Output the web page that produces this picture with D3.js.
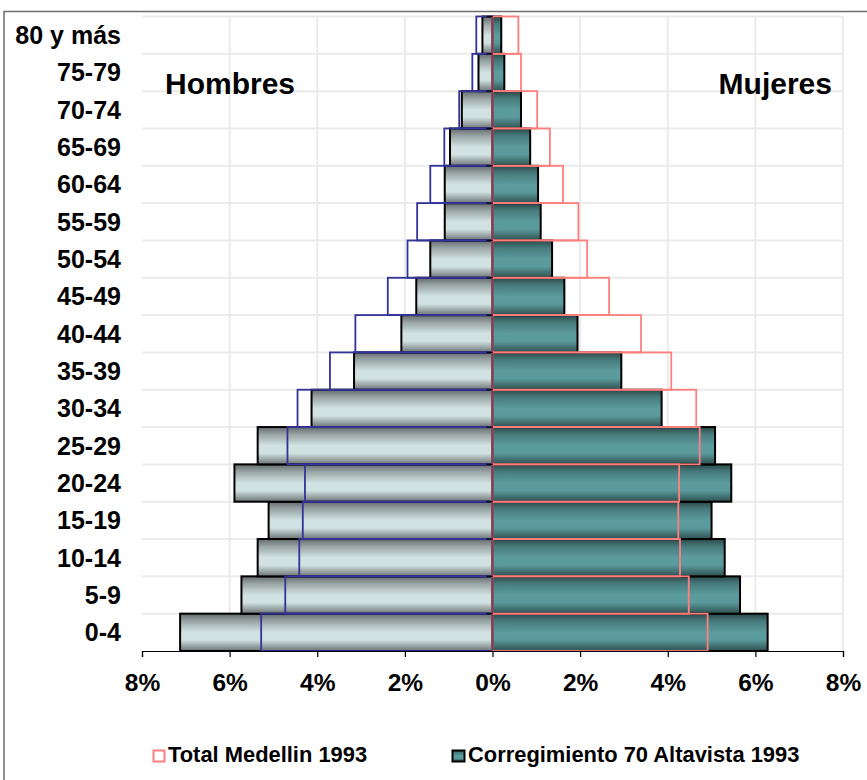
<!DOCTYPE html>
<html>
<head>
<meta charset="utf-8">
<script src="https://cdn.jsdelivr.net/npm/d3@7"></script>
<style>
  html, body { margin: 0; padding: 0; background: #fff; }
  svg { display: block; font-family: Arial, "Liberation Sans", sans-serif; }
</style>
</head>
<body>
<svg id="chart" width="867" height="780"></svg>
<script>
// ---- Data (percent of population) ----
const ageGroups = ["0-4","5-9","10-14","15-19","20-24","25-29","30-34","35-39","40-44","45-49","50-54","55-59","60-64","65-69","70-74","75-79","80 y más"];
const hombresAltavista = [7.13,5.73,5.36,5.11,5.89,5.36,4.13,3.16,2.08,1.74,1.42,1.09,1.09,0.97,0.70,0.32,0.23];
const hombresMedellin  = [5.28,4.73,4.41,4.33,4.28,4.68,4.45,3.71,3.13,2.39,1.94,1.72,1.42,1.10,0.76,0.46,0.37];
const mujeresAltavista = [6.28,5.65,5.30,5.00,5.45,5.08,3.86,2.94,1.94,1.64,1.36,1.10,1.04,0.86,0.65,0.27,0.20];
const mujeresMedellin  = [4.91,4.48,4.28,4.24,4.26,4.73,4.65,4.08,3.39,2.66,2.16,1.96,1.61,1.31,1.02,0.65,0.59];
const xTicks = [-8,-6,-4,-2,0,2,4,6,8];
const seriesNames = ["Total Medellin 1993","Corregimiento 70 Altavista 1993"];
const sideLabels = ["Hombres","Mujeres"];

(function () {
const svg = d3.select("#chart");
const pLeft = 142, pRight = 843, pTop = 16.5, pBottom = 651;

const x = d3.scaleLinear().domain([-8, 8]).range([pLeft, pRight]);
const y = d3.scaleBand().domain(ageGroups.slice().reverse()).range([pTop, pBottom]).padding(0);

// gradients
const defs = svg.append("defs");
function grad(id, stops) {
  const g = defs.append("linearGradient").attr("id", id).attr("x1", 0).attr("y1", 0).attr("x2", 0).attr("y2", 1);
  stops.forEach(s => g.append("stop").attr("offset", s[0]).attr("stop-color", s[1]));
}
grad("gMen", [[0,"#646c6c"],[0.2,"#9aa5a5"],[0.5,"#d2e2e2"],[0.7,"#d2e2e2"],[1,"#6c7474"]]);
grad("gWomen", [[0,"#2b4848"],[0.2,"#477b7c"],[0.5,"#5c9c9e"],[0.7,"#5a9a9c"],[1,"#2f5050"]]);

// outer frame
svg.append("rect").attr("x", 4).attr("y", 11.5).attr("width", 900).attr("height", 800)
  .attr("fill", "none").attr("stroke", "#6e6e6e").attr("stroke-width", 1.5);

// plot border + gridlines
const grid = svg.append("g");
grid.selectAll("line.v").data(xTicks.slice(1)).join("line")
  .attr("x1", d => x(d)).attr("x2", d => x(d)).attr("y1", pTop).attr("y2", pBottom)
  .attr("stroke", "#ebebeb").attr("stroke-width", 2);
grid.selectAll("line.h").data(ageGroups).join("line")
  .attr("x1", pLeft).attr("x2", pRight)
  .attr("y1", d => y(d)).attr("y2", d => y(d))
  .attr("stroke", "#ebebeb").attr("stroke-width", 2);

// Altavista bars (filled)
const rows = ageGroups.map((a, i) => ({ age: a, hA: hombresAltavista[i], hM: hombresMedellin[i], mA: mujeresAltavista[i], mM: mujeresMedellin[i] }));
const bw = y.bandwidth();
svg.append("g").selectAll("rect").data(rows).join("rect")
  .attr("x", d => x(-d.hA)).attr("y", d => y(d.age))
  .attr("width", d => x(0) - x(-d.hA)).attr("height", bw)
  .attr("fill", "url(#gMen)").attr("stroke", "#000").attr("stroke-width", 2);
svg.append("g").selectAll("rect").data(rows).join("rect")
  .attr("x", x(0)).attr("y", d => y(d.age))
  .attr("width", d => x(d.mA) - x(0)).attr("height", bw)
  .attr("fill", "url(#gWomen)").attr("stroke", "#000").attr("stroke-width", 2);

// Medellín outlines
svg.append("g").selectAll("rect").data(rows).join("rect")
  .attr("x", d => x(-d.hM)).attr("y", d => y(d.age))
  .attr("width", d => x(0) - x(-d.hM)).attr("height", bw)
  .attr("fill", "none").attr("stroke", "#333399").attr("stroke-width", 1.8);
svg.append("g").selectAll("rect").data(rows).join("rect")
  .attr("x", x(0)).attr("y", d => y(d.age))
  .attr("width", d => x(d.mM) - x(0)).attr("height", bw)
  .attr("fill", "none").attr("stroke", "#ff7f7f").attr("stroke-width", 1.8);

// center line and y ticks
svg.append("line").attr("x1", x(0)).attr("x2", x(0)).attr("y1", pTop).attr("y2", pBottom)
  .attr("stroke", "#8c3a48").attr("stroke-width", 1.2);
svg.append("g").selectAll("line").data(ageGroups).join("line")
  .attr("x1", x(0) - 6).attr("x2", x(0)).attr("y1", d => y(d)).attr("y2", d => y(d))
  .attr("stroke", "#000").attr("stroke-width", 1.2);

// x axis
const xAxis = d3.axisBottom(x).tickValues(xTicks).tickSize(6).tickFormat(d => Math.abs(d) + "%");
const gx = svg.append("g").attr("transform", `translate(0,${pBottom})`).call(xAxis);
gx.select(".domain").attr("stroke", "#000").attr("stroke-width", 1.2);
gx.selectAll(".tick line").attr("stroke", "#000").attr("stroke-width", 1.2);
gx.selectAll(".tick text").attr("y", 40).attr("dy", 0)
  .attr("font-size", "24.5px").attr("font-weight", "bold").attr("fill", "#000")
  .attr("font-family", "Arial, 'Liberation Sans', sans-serif");

// y labels
svg.append("g").selectAll("text").data(ageGroups).join("text")
  .attr("x", 121).attr("y", d => y(d) + bw / 2 + 9)
  .attr("text-anchor", "end").attr("font-size", "25px").attr("font-weight", "bold")
  .text(d => d);

// side labels
svg.append("text").attr("x", 165).attr("y", 93.5).attr("font-size", "30px").attr("font-weight", "bold").text(sideLabels[0]);
svg.append("text").attr("x", 832).attr("y", 93.5).attr("text-anchor", "end").attr("font-size", "30px").attr("font-weight", "bold").text(sideLabels[1]);

// legend
const lg = svg.append("g");
lg.append("rect").attr("x", 153.5).attr("y", 750.5).attr("width", 11).attr("height", 11)
  .attr("fill", "#fff").attr("stroke", "#ff7f7f").attr("stroke-width", 2);
lg.append("text").attr("x", 168).attr("y", 762).attr("font-size", "21.9px").attr("font-weight", "bold").text(seriesNames[0]);
lg.append("rect").attr("x", 452.5).attr("y", 750.5).attr("width", 12).attr("height", 11)
  .attr("fill", "url(#gWomen)").attr("stroke", "#000").attr("stroke-width", 2);
lg.append("text").attr("x", 468).attr("y", 762).attr("font-size", "21.9px").attr("font-weight", "bold").text(seriesNames[1]);
})();
</script>
</body>
</html>
